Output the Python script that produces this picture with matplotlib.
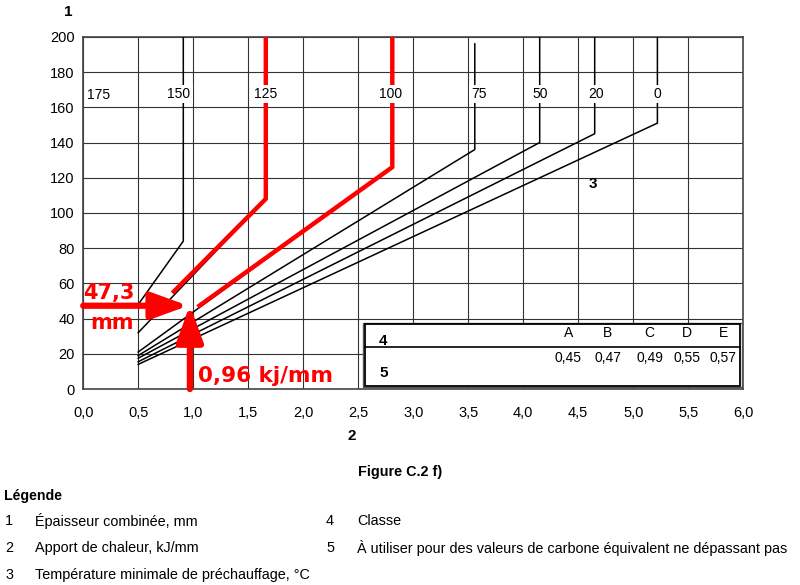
import matplotlib.pyplot as plt
from matplotlib.patches import Rectangle

plt.rcParams['font.family'] = ['Liberation Sans', 'DejaVu Sans']

# preheat temperature curves (°C): start at 0.5 kJ/mm, knee, then vertical
temps = ['150', '125', '100', '75', '50', '20', '0']
y_start = [48, 32, 21, 19, 17.5, 15.5, 14]
x_knee = [0.91, 1.66, 2.81, 3.56, 4.15, 4.65, 5.22]
y_knee = [84, 108, 126, 136, 140, 145, 151]
y_top = [200, 200, 200, 196, 200, 200, 200]
label_x = [0.87, 1.66, 2.79, 3.6, 4.15, 4.66, 5.22]
x_start = 0.5

# red highlighted parts
red_125_x = [0.81, 1.66, 1.66]
red_125_y = [54.5, 108, 200]
red_100_x = [1.04, 2.81, 2.81]
red_100_y = [46.6, 126, 200]
heat_input = 0.96
thickness = 47.3

classes = ['A', 'B', 'C', 'D', 'E']
carbon_eq = ['0,45', '0,47', '0,49', '0,55', '0,57']
class_x = [4.41, 4.77, 5.15, 5.49, 5.82]

fig = plt.figure(figsize=(8, 5.85), dpi=100)
ax = fig.add_axes([0.104, 0.335, 0.825, 0.602])
ax.set_xlim(0, 6)
ax.set_ylim(0, 200)

xt = [i * 0.5 for i in range(13)]
yt = list(range(0, 201, 20))
ax.set_xticks(xt)
ax.set_xticklabels([f'{v:.1f}'.replace('.', ',') for v in xt], fontsize=10.5)
ax.set_yticks(yt)
ax.set_yticklabels([str(v) for v in yt], fontsize=10.5)
ax.tick_params(length=0, pad=12)
ax.tick_params(axis='y', pad=6)
ax.grid(True, color='#333333', lw=0.8)
ax.set_axisbelow(True)
for s in ax.spines.values():
    s.set_color('#444444')
    s.set_linewidth(1.2)

for i, t in enumerate(temps):
    ax.plot([x_start, x_knee[i], x_knee[i]], [y_start[i], y_knee[i], y_top[i]],
            color='black', lw=1.1, zorder=3)

ax.plot(red_125_x, red_125_y, color='red', lw=3.2, zorder=4, solid_capstyle='butt')
ax.plot(red_100_x, red_100_y, color='red', lw=3.2, zorder=4, solid_capstyle='butt')

ax.text(0.14, 167, '175', fontsize=10, ha='center', va='center', zorder=5)
for i, t in enumerate(temps):
    ax.text(label_x[i], 167.5, t, fontsize=10, ha='center', va='center', zorder=5,
            bbox=dict(facecolor='white', edgecolor='none', pad=1.5))
ax.text(4.63, 116.5, '3', fontsize=11, fontweight='bold', ha='center', va='center', zorder=5)

# class table (double border like the scan)
ax.add_patch(Rectangle((2.54, 1), 3.45, 36.5, facecolor='white', edgecolor='#555555',
                       lw=1.0, zorder=5))
ax.add_patch(Rectangle((2.56, 1.8), 3.41, 35.0, facecolor='none', edgecolor='black',
                       lw=1.3, zorder=5))
ax.plot([2.56, 5.97], [24, 24], color='black', lw=1.2, zorder=6)
ax.text(2.73, 27, '4', fontsize=11, fontweight='bold', ha='center', va='center', zorder=6)
ax.text(2.73, 9, '5', fontsize=11, fontweight='bold', ha='center', va='center', zorder=6)
for i in range(5):
    ax.text(class_x[i], 32, classes[i], fontsize=10, ha='center', va='center', zorder=6)
    ax.text(class_x[i], 17.5, carbon_eq[i], fontsize=10, ha='center', va='center', zorder=6)

# red arrows and annotation
arrow = dict(arrowstyle='-|>,head_length=1.1,head_width=0.4', color='red', lw=4.5,
             mutation_scale=20, shrinkA=0, shrinkB=0)
ax.annotate('', xy=(0.955, thickness), xytext=(0, thickness),
            arrowprops=arrow, zorder=7, annotation_clip=False)
ax.annotate('', xy=(0.97, 47.7), xytext=(0.97, 0),
            arrowprops=arrow, zorder=7, annotation_clip=False)
ax.text(0.0, 54.5, '47,3', color='red', fontsize=15, fontweight='bold',
        family='DejaVu Sans', ha='left', va='center', zorder=8)
ax.text(0.06, 37.5, 'mm', color='red', fontsize=15, fontweight='bold',
        family='DejaVu Sans', ha='left', va='center', zorder=8)
ax.text(1.04, 7.5, '0,96 kj/mm', color='red', fontsize=15.5, fontweight='bold',
        family='DejaVu Sans', ha='left', va='center', zorder=8)

fig.text(68 / 800, 1 - 12 / 585, '1', fontsize=11, fontweight='bold', ha='center', va='center')
fig.text(352 / 800, 1 - 436 / 585, '2', fontsize=11, fontweight='bold', ha='center', va='center')

# caption and legend
fig.text(400 / 800, 1 - 472 / 585, 'Figure C.2 f)', fontsize=10.4, fontweight='bold',
         ha='center', va='center')
fig.text(4 / 800, 1 - 496 / 585, 'Légende', fontsize=10.2, fontweight='bold',
         ha='left', va='center')
legend_left = [('1', 'Épaisseur combinée, mm', 521),
               ('2', 'Apport de chaleur, kJ/mm', 548),
               ('3', 'Température minimale de préchauffage, °C', 575)]
legend_right = [('4', 'Classe', 521),
                ('5', 'À utiliser pour des valeurs de carbone équivalent ne dépassant pas', 548)]
for n, txt, y in legend_left:
    fig.text(5 / 800, 1 - y / 585, n, fontsize=10.4, va='center')
    fig.text(35 / 800, 1 - y / 585, txt, fontsize=10.4, va='center')
for n, txt, y in legend_right:
    fig.text(326 / 800, 1 - y / 585, n, fontsize=10.4, va='center')
    fig.text(357 / 800, 1 - y / 585, txt, fontsize=10.4, va='center')

fig.savefig('out.png', dpi=100)
